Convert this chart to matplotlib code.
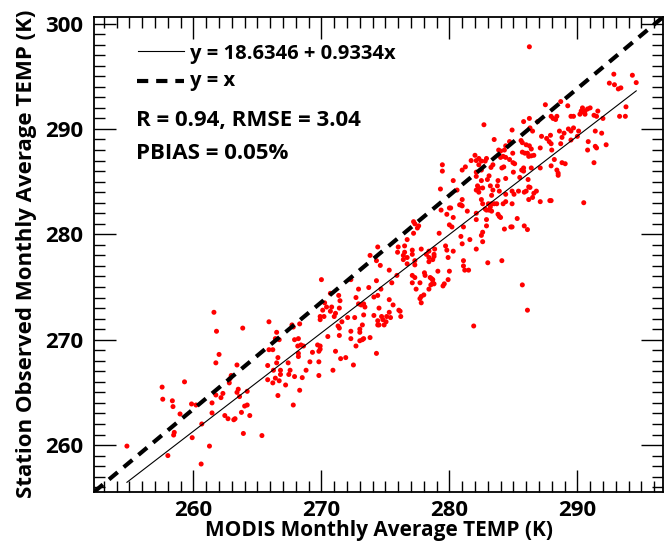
import matplotlib
matplotlib.use("Agg")
import matplotlib.pyplot as plt
from matplotlib.ticker import MultipleLocator, FixedLocator

# ---- data (K) ----
modis_temp = [
    261.6, 261.8, 263.85, 262.0, 261.75, 263.4, 262.95, 262.85, 262.8, 257.55,
    259.3, 257.6, 258.35, 258.4, 259.85, 260.2, 258.95, 258.5, 258.45, 259.9,
    260.65, 261.45, 261.45, 261.25, 258.0, 254.8, 260.6, 261.75, 262.3, 262.15,
    263.5, 263.4, 263.6, 264.2, 264.0, 264.2, 263.75, 264.4, 262.45, 262.7,
    263.15, 263.25, 263.9, 265.35,
    265.9, 266.5, 266.4, 266.7, 267.7, 267.8, 268.2, 265.9, 266.2, 266.6,
    265.8, 266.5, 266.8, 265.8, 266.2, 266.4, 266.7, 266.6, 267.2, 267.4,
    267.55, 267.45, 267.9, 267.8, 268.2, 268.2, 268.3, 268.15,
    270.0, 270.7, 271.35, 271.45, 270.25, 270.4, 270.8, 270.7, 270.1, 269.9,
    270.2, 269.9, 271.1, 271.0, 271.4, 268.3, 267.9, 268.4, 268.6, 266.25,
    266.8, 268.5, 268.8, 269.1, 269.3, 269.7, 269.9, 269.9, 269.8, 269.8,
    269.8, 270.5, 270.9, 271.1, 271.3, 271.4, 271.4, 271.6, 271.5, 271.9,
    272.05, 272.3, 272.9, 272.7, 272.9, 273.3, 273.4, 273.1, 272.6, 273.3,
    272.3, 272.3, 273.0, 273.0, 273.2, 273.0, 273.2, 273.3, 272.7, 272.5,
    273.7, 273.8, 274.4, 274.3, 274.3, 274.1, 274.4, 274.1, 274.4, 274.4,
    273.8, 274.3,
    279.45, 279.45, 281.7, 282.0, 281.0, 281.25, 282.3, 282.1, 280.3, 279.3,
    280.6, 280.9, 280.8, 281.0, 280.0, 280.1, 279.8, 279.35, 281.4, 281.0,
    280.3, 280.0, 280.2, 281.1, 279.2, 280.9, 281.6, 282.1, 281.0, 282.1,
    282.1, 277.2, 277.3, 277.6, 277.5, 277.2, 276.7, 276.0, 275.95, 276.5,
    276.5, 276.4, 276.7, 277.1, 277.1, 277.8, 278.4, 278.2, 278.85, 278.8,
    278.4, 278.8, 278.7, 278.4, 279.7, 279.8, 280.3, 279.9, 274.6, 276.4,
    276.7, 277.3, 277.3, 275.3, 275.9, 275.5, 274.65, 277.1, 277.3, 277.7,
    278.05, 278.1, 278.5, 278.6, 278.7, 278.8, 278.55, 278.7, 279.1, 280.0,
    279.9, 279.6, 279.5, 278.4, 278.0, 277.8, 277.7, 277.8, 277.4, 281.1,
    281.1, 281.5, 281.2, 277.1, 275.3, 275.6, 274.5, 274.7, 275.1, 274.8,
    275.05, 275.3, 275.4, 276.05, 276.15, 276.2, 274.9, 274.5, 281.9,
    287.5, 282.7, 284.9, 286.25, 285.8, 286.9, 286.3, 286.5, 287.2, 287.6,
    287.8, 283.5, 284.7, 284.4, 284.3, 283.85, 284.0, 285.6, 285.7, 286.0,
    286.25, 286.4, 287.1, 282.3, 282.5, 282.9, 282.8, 282.1, 283.4, 283.25,
    282.5, 282.1, 282.2, 282.3, 284.0, 284.2, 284.4, 284.1, 284.25, 284.95,
    284.7, 285.1, 284.97, 284.4, 285.7, 285.9, 286.1, 286.4, 286.2, 286.6,
    285.8, 285.65, 285.8, 286.4, 287.1, 285.5, 286.15, 285.0, 283.1, 282.97,
    283.2, 282.5, 282.6, 283.8, 283.75, 283.9, 283.3, 283.4, 282.1, 282.3,
    282.5, 284.4, 284.9, 285.05, 285.4, 285.85, 286.0, 286.3, 286.2, 286.8,
    286.6, 286.5, 286.2, 287.1, 287.85, 282.6, 283.05, 283.3, 283.5, 283.7,
    284.2, 284.4, 284.9, 283.2, 282.9, 283.1, 283.3, 282.8, 283.8, 284.0,
    283.9, 285.3, 284.9, 284.8, 284.3, 285.85, 286.1, 282.9, 282.9, 282.6,
    282.5, 282.6, 283.0, 284.1, 285.7, 286.1,
    292.85, 292.5, 292.9, 293.2, 293.4, 294.3, 294.6, 288.7, 289.25, 290.4,
    290.6, 290.3, 290.5, 290.8, 291.0, 290.2, 290.6, 291.6, 291.3, 291.5,
    292.0, 293.8, 293.3, 293.75, 288.4, 288.3, 288.1, 287.95, 289.5, 289.7,
    288.6, 288.96, 289.3, 289.5, 289.7, 290.1, 288.8, 289.5, 290.0, 287.9,
    287.95, 288.0, 288.7, 291.4, 291.9, 290.85, 291.4, 291.5, 290.8, 292.25,
    288.2, 287.95, 288.8, 289.05, 288.4, 288.5, 288.5, 291.3, 287.95, 290.5,
    286.25,
]
station_temp = [
    272.6, 270.8, 271.1, 268.6, 267.8, 267.6, 266.6, 266.3, 265.9, 265.5,
    266.0, 264.35, 264.2, 263.65, 263.9, 263.8, 262.95, 261.2, 260.95, 260.7,
    262.0, 264.0, 263.05, 259.9, 259.0, 259.9, 258.2, 264.75, 264.9, 264.5,
    265.3, 265.0, 264.6, 265.1, 263.7, 263.8, 263.1, 262.8, 262.8, 262.5,
    262.4, 262.5, 261.1, 260.9,
    271.7, 270.7, 270.1, 270.0, 271.4, 271.2, 270.1, 269.05, 269.05, 268.3,
    267.55, 267.8, 267.1, 266.2, 265.9, 266.35, 266.1, 264.7, 265.7, 267.8,
    267.1, 266.7, 266.5, 263.8, 268.7, 268.4, 265.2, 269.4,
    275.7, 274.4, 274.2, 273.7, 273.5, 273.1, 273.1, 272.7, 272.8, 272.2,
    272.2, 271.9, 272.5, 272.2, 273.0, 271.5, 270.0, 269.5, 269.4, 267.1,
    266.7, 266.4, 267.1, 267.9, 268.8, 269.5, 269.4, 269.1, 268.9, 267.9,
    266.6, 270.3, 267.1, 268.9, 271.3, 271.1, 270.4, 271.7, 268.2, 268.3,
    272.1, 275.7, 274.8, 274.0, 273.4, 273.4, 273.1, 273.3, 272.1, 272.35,
    270.8, 270.1, 271.0, 270.7, 271.4, 269.9, 270.0, 270.1, 269.4, 267.6,
    274.95, 278.0, 278.8, 277.5, 275.6, 274.05, 274.2, 272.3, 271.8, 271.4,
    270.2, 268.7,
    286.6, 286.0, 287.0, 287.5, 286.1, 286.4, 286.6, 285.9, 285.1, 284.3,
    284.2, 282.8, 282.8, 282.7, 282.5, 282.5, 281.9, 282.3, 282.2, 283.3,
    281.6, 280.9, 280.7, 280.7, 280.1, 279.8, 279.5, 278.6, 279.1, 282.0,
    281.4, 281.2, 281.0, 280.8, 280.6, 280.1, 279.5, 278.8, 278.3, 278.9,
    278.3, 278.0, 277.8, 278.5, 278.1, 278.6, 278.4, 278.1, 278.6, 278.1,
    277.8, 277.9, 277.6, 277.4, 278.9, 278.5, 278.4, 277.8, 277.05, 277.6,
    277.2, 277.5, 277.1, 276.6, 276.1, 275.4, 274.8, 276.1, 275.9, 275.4,
    276.35, 276.1, 275.9, 275.8, 275.7, 275.3, 275.2, 275.4, 276.5, 276.5,
    275.7, 275.3, 275.1, 274.8, 274.25, 274.1, 273.9, 273.5, 274.8, 277.5,
    277.0, 276.6, 276.6, 275.4, 273.8, 273.3, 273.0, 272.2, 272.2, 271.9,
    271.7, 272.6, 272.1, 272.8, 272.7, 272.2, 271.4, 271.4, 271.3,
    292.3, 290.4, 289.9, 291.0, 290.7, 290.7, 290.1, 289.8, 289.3, 289.1,
    288.8, 289.0, 288.8, 288.4, 288.0, 288.0, 287.9, 288.9, 288.7, 288.5,
    288.4, 288.1, 288.2, 287.2, 286.95, 287.2, 286.95, 287.0, 286.6, 286.35,
    286.1, 285.5, 284.6, 284.4, 287.3, 287.4, 287.3, 286.3, 286.4, 287.7,
    287.1, 286.7, 286.8, 285.3, 287.8, 287.7, 287.7, 287.45, 287.4, 287.5,
    286.3, 286.1, 286.0, 286.3, 286.3, 285.4, 285.2, 285.9, 285.55, 285.2,
    284.6, 285.1, 284.4, 285.1, 284.6, 284.1, 283.7, 284.2, 284.2, 284.0,
    283.3, 283.8, 284.1, 283.8, 284.1, 284.0, 284.1, 284.45, 284.5, 284.1,
    283.9, 283.5, 283.3, 283.1, 283.2, 282.9, 282.9, 282.9, 282.9, 282.9,
    282.9, 283.1, 282.9, 282.6, 282.3, 282.3, 282.2, 282.4, 281.9, 281.6,
    281.7, 281.5, 280.7, 280.7, 280.5, 280.8, 280.45, 281.4, 280.8, 280.2,
    279.9, 279.3, 277.3, 277.5, 275.2, 272.8,
    295.2, 294.35, 294.2, 293.8, 293.9, 295.1, 294.4, 292.6, 292.2, 292.0,
    291.7, 291.7, 291.6, 291.9, 292.0, 291.4, 291.4, 291.7, 291.3, 291.2,
    291.0, 292.1, 291.2, 291.2, 291.2, 290.9, 291.0, 291.2, 291.2, 291.2,
    289.8, 289.6, 290.0, 289.8, 290.1, 289.8, 289.2, 288.95, 289.3, 289.4,
    288.6, 288.0, 288.6, 289.8, 289.6, 288.8, 288.35, 288.2, 288.0, 288.5,
    287.1, 286.5, 286.8, 286.7, 286.1, 285.8, 285.6, 286.8, 283.2, 283.0,
    297.8,
]

fit_intercept = 18.6346
fit_slope = 0.9334
x_limits = (252.25, 296.73)
y_limits = (255.57, 300.66)
x_major_ticks = [260, 270, 280, 290]
y_major_ticks = [260, 270, 280, 290, 300]
fit_label = "y = 18.6346 + 0.9334x"
identity_label = "y = x"
stats_line1 = "R = 0.94, RMSE = 3.04"
stats_line2 = "PBIAS = 0.05%"
x_title = "MODIS Monthly Average TEMP (K)"
y_title = "Station Observed Monthly Average TEMP (K)"

plt.rcParams["font.family"] = ["Open Sans", "DejaVu Sans"]
plt.rcParams["font.weight"] = "bold"

fig = plt.figure(figsize=(6.65, 5.44), dpi=100)
ax = fig.add_axes([0.1418, 0.0961, 0.8559, 0.8733])

ax.scatter(modis_temp, station_temp, s=13, color="#ff0000", edgecolors="none", zorder=3)

xmin, xmax = min(modis_temp), max(modis_temp)
ax.plot([xmin, xmax], [fit_intercept + fit_slope * xmin, fit_intercept + fit_slope * xmax],
        color="black", lw=0.8, zorder=4)
ax.plot([0, 1], [0, 1], transform=ax.transAxes, color="black", lw=3.0,
        dashes=(2.7, 1.9), zorder=4, clip_on=True)

ax.set_xlim(*x_limits)
ax.set_ylim(*y_limits)
ax.xaxis.set_major_locator(FixedLocator(x_major_ticks))
ax.yaxis.set_major_locator(FixedLocator(y_major_ticks))
ax.xaxis.set_minor_locator(MultipleLocator(1))
ax.yaxis.set_minor_locator(MultipleLocator(1))
ax.tick_params(which="both", direction="in", top=True, right=True, width=1.0, color="black")
ax.tick_params(which="major", length=16, labelsize=16)
ax.tick_params(axis="x", which="major", pad=6)
ax.tick_params(axis="y", which="major", pad=8)
ax.tick_params(which="minor", length=8)
for lab in ax.get_xticklabels() + ax.get_yticklabels():
    lab.set_fontweight("bold")
for sp in ax.spines.values():
    sp.set_linewidth(1.3)

ax.set_xlabel(x_title, fontsize=15, fontweight="bold", labelpad=-1)
ax.set_ylabel(y_title, fontsize=16, fontweight="bold", labelpad=6)

# legend-like annotations
ax.plot([0.0773, 0.158], [0.928, 0.928], transform=ax.transAxes, color="black", lw=0.8)
ax.plot([0.0745, 0.158], [0.8646, 0.8646], transform=ax.transAxes, color="black", lw=3.0,
        dashes=(2.7, 1.9))
ax.text(0.168, 0.9103, fit_label, transform=ax.transAxes, fontsize=14.5, fontweight="bold",
        va="baseline", ha="left")
ax.text(0.168, 0.8533, identity_label, transform=ax.transAxes, fontsize=14.5, fontweight="bold",
        va="baseline", ha="left")
ax.text(0.0727, 0.7697, stats_line1, transform=ax.transAxes, fontsize=16, fontweight="bold",
        va="baseline", ha="left")
ax.text(0.0727, 0.7004, stats_line2, transform=ax.transAxes, fontsize=16, fontweight="bold",
        va="baseline", ha="left")

fig.savefig("out.png", dpi=100)
